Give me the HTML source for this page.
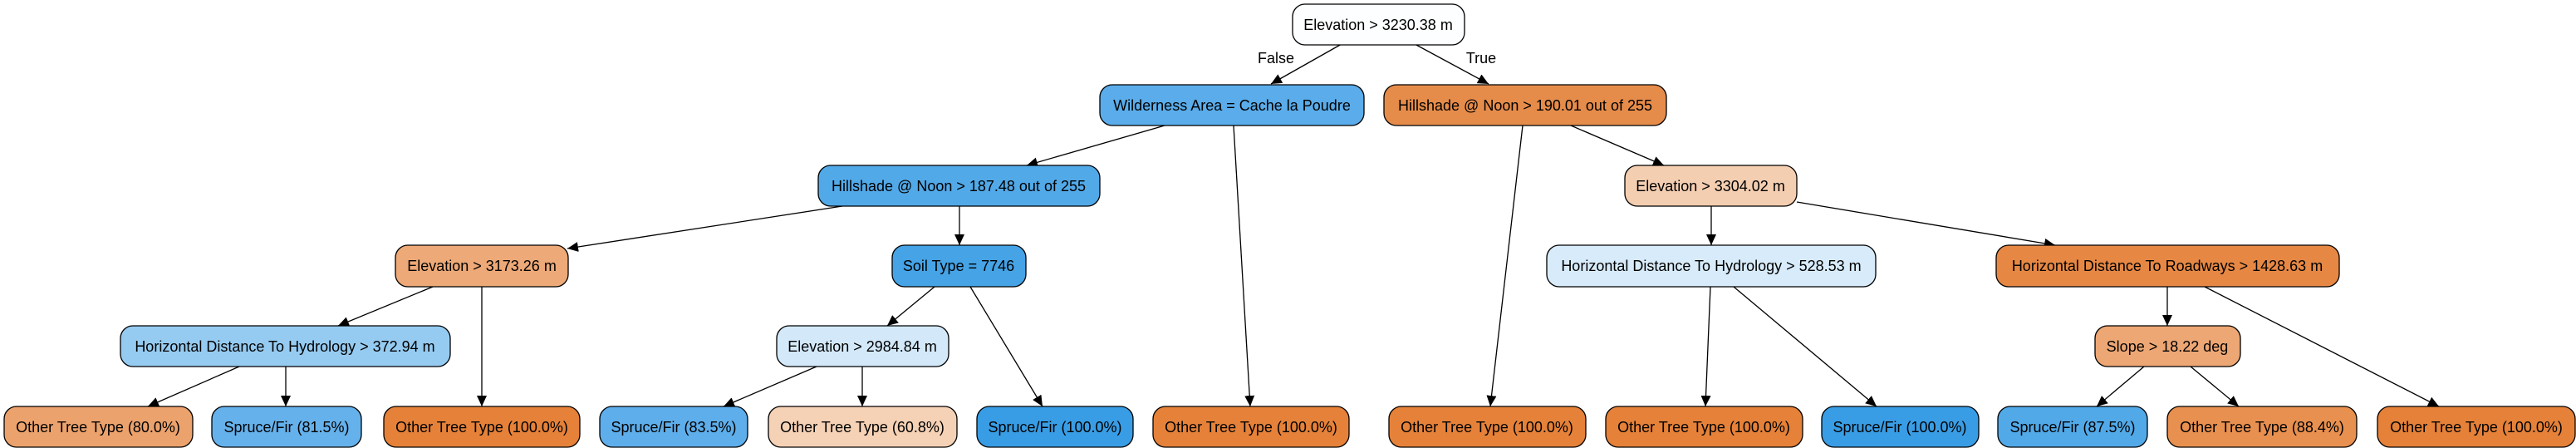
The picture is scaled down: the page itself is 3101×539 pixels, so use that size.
<!DOCTYPE html>
<html><head><meta charset="utf-8"><style>
html,body{margin:0;padding:0;background:#fff;}
svg{display:block;}
text{font-family:"Liberation Sans",Arial,sans-serif;font-size:18px;fill:#000;}
</style></head><body>
<svg width="3101" height="539" viewBox="0 0 3101 539" xmlns="http://www.w3.org/2000/svg">
<defs>
<marker id="a" markerUnits="userSpaceOnUse" markerWidth="14" markerHeight="12" refX="13" refY="6" orient="auto">
<path d="M0,0 L13,6 L0,12 z" fill="#000"/>
</marker>
</defs>
<g stroke="#000" stroke-width="1.3" fill="none" marker-end="url(#a)">
<line x1="1615" y1="53" x2="1530" y2="101"/>
<line x1="1703" y1="53" x2="1792" y2="101"/>
<line x1="1402" y1="151" x2="1236" y2="199"/>
<line x1="1485" y1="151" x2="1505" y2="489"/>
<line x1="1014" y1="248" x2="683" y2="299"/>
<line x1="1155" y1="248" x2="1155" y2="295"/>
<line x1="1125" y1="345" x2="1068" y2="392"/>
<line x1="1168" y1="345" x2="1255" y2="489"/>
<line x1="983" y1="441" x2="871" y2="489"/>
<line x1="1038" y1="441" x2="1038" y2="489"/>
<line x1="521" y1="345" x2="407" y2="392"/>
<line x1="580" y1="345" x2="580" y2="489"/>
<line x1="288" y1="441" x2="178" y2="489"/>
<line x1="344" y1="441" x2="344" y2="489"/>
<line x1="1833" y1="151" x2="1794" y2="489"/>
<line x1="1891" y1="151" x2="2003" y2="199"/>
<line x1="2060" y1="248" x2="2060" y2="295"/>
<line x1="2163" y1="243" x2="2474" y2="295"/>
<line x1="2059" y1="345" x2="2053" y2="489"/>
<line x1="2087" y1="345" x2="2259" y2="489"/>
<line x1="2609" y1="345" x2="2609" y2="392"/>
<line x1="2654" y1="345" x2="2936" y2="489"/>
<line x1="2581" y1="441" x2="2524" y2="489"/>
<line x1="2637" y1="441" x2="2695" y2="489"/>
</g>
<text x="1536" y="76" text-anchor="middle">False</text>
<text x="1783" y="76" text-anchor="middle">True</text>
<g stroke="#000" stroke-width="1.3">
<rect x="1556" y="5" width="207" height="49" rx="15" fill="#fdfeff"/>
<rect x="1324" y="102" width="318" height="49" rx="15" fill="#5aacea"/>
<rect x="1666" y="102" width="340" height="49" rx="15" fill="#e68c4a"/>
<rect x="985" y="199" width="339" height="49" rx="15" fill="#52a9e8"/>
<rect x="1956" y="199" width="207" height="49" rx="15" fill="#f4ceb1"/>
<rect x="476" y="295" width="208" height="50" rx="15" fill="#eda977"/>
<rect x="1074" y="295" width="161" height="50" rx="15" fill="#45a3e6"/>
<rect x="1862" y="295" width="396" height="50" rx="15" fill="#d8ebfa"/>
<rect x="2403" y="295" width="413" height="50" rx="15" fill="#e68844"/>
<rect x="145" y="392" width="397" height="49" rx="15" fill="#96cbf1"/>
<rect x="935" y="392" width="207" height="49" rx="15" fill="#d3e9f9"/>
<rect x="2522" y="392" width="175" height="49" rx="15" fill="#eda774"/>
<rect x="5" y="489" width="227" height="49" rx="15" fill="#eca26d"/>
<rect x="255" y="489" width="180" height="49" rx="15" fill="#65b1eb"/>
<rect x="462" y="489" width="236" height="49" rx="15" fill="#e58139"/>
<rect x="722" y="489" width="178" height="49" rx="15" fill="#5eaeeb"/>
<rect x="925" y="489" width="227" height="49" rx="15" fill="#f5d1b5"/>
<rect x="1176" y="489" width="188" height="49" rx="15" fill="#399de5"/>
<rect x="1388" y="489" width="236" height="49" rx="15" fill="#e58139"/>
<rect x="1672" y="489" width="237" height="49" rx="15" fill="#e58139"/>
<rect x="1933" y="489" width="237" height="49" rx="15" fill="#e58139"/>
<rect x="2193" y="489" width="189" height="49" rx="15" fill="#399de5"/>
<rect x="2405" y="489" width="180" height="49" rx="15" fill="#52a9e8"/>
<rect x="2609" y="489" width="228" height="49" rx="15" fill="#e89050"/>
<rect x="2862" y="489" width="238" height="49" rx="15" fill="#e58139"/>
</g>
<g text-anchor="middle">
<text x="1659" y="36">Elevation &gt; 3230.38 m</text>
<text x="1483" y="133">Wilderness Area = Cache la Poudre</text>
<text x="1836" y="133">Hillshade @ Noon &gt; 190.01 out of 255</text>
<text x="1154" y="230">Hillshade @ Noon &gt; 187.48 out of 255</text>
<text x="2059" y="230">Elevation &gt; 3304.02 m</text>
<text x="580" y="326">Elevation &gt; 3173.26 m</text>
<text x="1154" y="326">Soil Type = 7746</text>
<text x="2060" y="326">Horizontal Distance To Hydrology &gt; 528.53 m</text>
<text x="2609" y="326">Horizontal Distance To Roadways &gt; 1428.63 m</text>
<text x="343" y="423">Horizontal Distance To Hydrology &gt; 372.94 m</text>
<text x="1038" y="423">Elevation &gt; 2984.84 m</text>
<text x="2609" y="423">Slope &gt; 18.22 deg</text>
<text x="118" y="520">Other Tree Type (80.0%)</text>
<text x="345" y="520">Spruce/Fir (81.5%)</text>
<text x="580" y="520">Other Tree Type (100.0%)</text>
<text x="811" y="520">Spruce/Fir (83.5%)</text>
<text x="1038" y="520">Other Tree Type (60.8%)</text>
<text x="1270" y="520">Spruce/Fir (100.0%)</text>
<text x="1506" y="520">Other Tree Type (100.0%)</text>
<text x="1790" y="520">Other Tree Type (100.0%)</text>
<text x="2051" y="520">Other Tree Type (100.0%)</text>
<text x="2287" y="520">Spruce/Fir (100.0%)</text>
<text x="2495" y="520">Spruce/Fir (87.5%)</text>
<text x="2723" y="520">Other Tree Type (88.4%)</text>
<text x="2981" y="520">Other Tree Type (100.0%)</text>
</g>
</svg>
</body></html>
